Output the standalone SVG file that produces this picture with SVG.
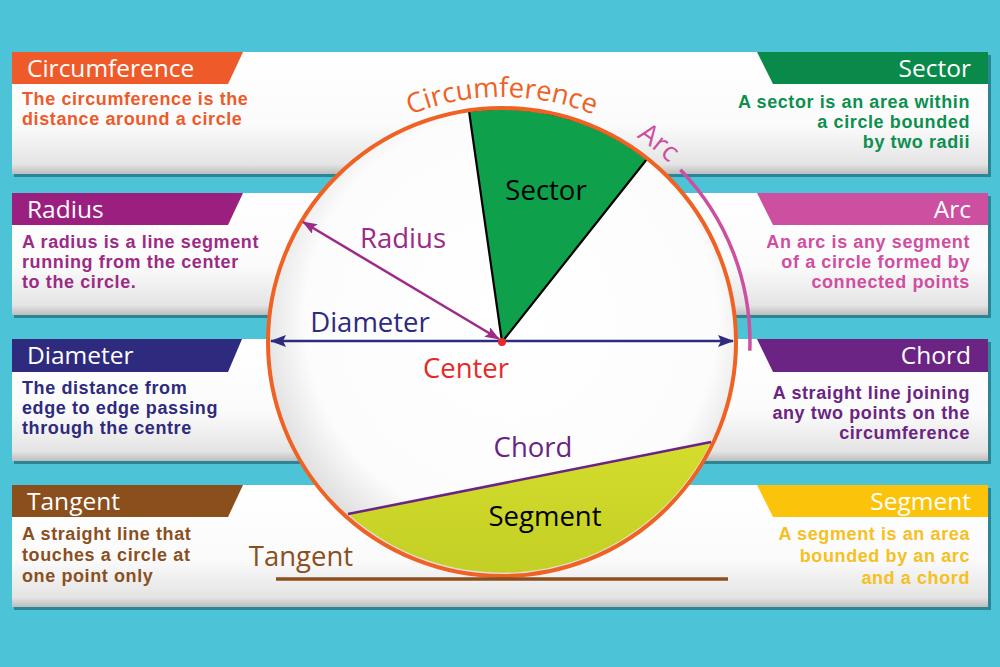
<svg xmlns="http://www.w3.org/2000/svg" width="1000" height="667" viewBox="0 0 1000 667">
<defs>
<linearGradient id="band" x1="0" y1="0" x2="0" y2="1">
<stop offset="0" stop-color="#ffffff"/>
<stop offset="0.6" stop-color="#fbfbfb"/>
<stop offset="0.92" stop-color="#e4e4e4"/>
<stop offset="1" stop-color="#bdbdbd"/>
</linearGradient>
<radialGradient id="disc" cx="0.52" cy="0.45" r="0.55">
<stop offset="0" stop-color="#ffffff"/>
<stop offset="0.8" stop-color="#fcfcfc"/>
<stop offset="1" stop-color="#dedede"/>
</radialGradient>
<linearGradient id="segfill" x1="0" y1="0" x2="0" y2="1">
<stop offset="0" stop-color="#d4dd2c"/>
<stop offset="1" stop-color="#c3cf25"/>
</linearGradient>
<marker id="ahNavy" viewBox="0 0 16 12" refX="15" refY="6" markerWidth="16" markerHeight="12" markerUnits="userSpaceOnUse" orient="auto-start-reverse">
<path d="M0,0 L16,6 L0,12 L3,6 z" fill="#2e2a7e"/>
</marker>
<marker id="ahRad" viewBox="0 0 16 12" refX="15" refY="6" markerWidth="15" markerHeight="11" markerUnits="userSpaceOnUse" orient="auto-start-reverse">
<path d="M0,0 L16,6 L0,12 L3,6 z" fill="#9b2a88"/>
</marker>
<path id="topArc" d="M257,342 A245,245 0 0 1 747,342"/>
</defs>
<style>
.hdr{font-family:"Open Sans","Liberation Sans",sans-serif;font-size:24.5px;fill:#ffffff}
.body{font-family:"Liberation Sans","Arial",sans-serif;font-size:18px;font-weight:700;letter-spacing:0.6px}
.lbl{font-family:"Open Sans","Liberation Sans",sans-serif;font-size:27.5px}
.r{text-anchor:end}
.shadow{fill:#2a8694}
.bandrect{fill:url(#band)}
</style>
<rect width="1000" height="667" fill="#4cc3d6"/>

<g id="bands">
<rect class="shadow" x="14" y="55" width="977" height="122"/>
<rect class="bandrect" x="12" y="52" width="976" height="122"/>
<rect class="shadow" x="14" y="196" width="977" height="122"/>
<rect class="bandrect" x="12" y="193" width="976" height="122"/>
<rect class="shadow" x="14" y="342" width="977" height="122"/>
<rect class="bandrect" x="12" y="339" width="976" height="122"/>
<rect class="shadow" x="14" y="488" width="977" height="122"/>
<rect class="bandrect" x="12" y="485" width="976" height="122"/>
</g>

<g id="panel-circumference">
<polygon points="12,52 243,52 228,84 12,84" fill="#ef5a2a"/>
<text class="hdr" x="27" y="77">Circumference</text>
<text class="body" fill="#ef5a2a" x="22" y="105">The circumference is the</text>
<text class="body" fill="#ef5a2a" x="22" y="125">distance around a circle</text>
</g>

<g id="panel-sector">
<polygon points="757,52 988,52 988,84 773,84" fill="#0a8a4a"/>
<text class="hdr r" x="971" y="77">Sector</text>
<text class="body r" fill="#0d8f4f" x="970" y="108">A sector is an area within</text>
<text class="body r" fill="#0d8f4f" x="970" y="128">a circle bounded</text>
<text class="body r" fill="#0d8f4f" x="970" y="148">by two radii</text>
</g>

<g id="panel-radius">
<polygon points="12,193 243,193 228,225 12,225" fill="#9b1f7e"/>
<text class="hdr" x="27" y="218">Radius</text>
<text class="body" fill="#9c2a86" x="22" y="248">A radius is a line segment</text>
<text class="body" fill="#9c2a86" x="22" y="268">running from the center</text>
<text class="body" fill="#9c2a86" x="22" y="288">to the circle.</text>
</g>

<g id="panel-arc">
<polygon points="757,193 988,193 988,225 773,225" fill="#cc4fa0"/>
<text class="hdr r" x="971" y="218">Arc</text>
<text class="body r" fill="#d04ea2" x="970" y="248">An arc is any segment</text>
<text class="body r" fill="#d04ea2" x="970" y="268">of a circle formed by</text>
<text class="body r" fill="#d04ea2" x="970" y="288">connected points</text>
</g>

<g id="panel-diameter">
<polygon points="12,339 242,339 228,372 12,372" fill="#2e2a7e"/>
<text class="hdr" x="27" y="364">Diameter</text>
<text class="body" fill="#2e2a7e" x="22" y="394">The distance from</text>
<text class="body" fill="#2e2a7e" x="22" y="414">edge to edge passing</text>
<text class="body" fill="#2e2a7e" x="22" y="434">through the centre</text>
</g>

<g id="panel-chord">
<polygon points="757,339 988,339 988,372 773,372" fill="#6b2483"/>
<text class="hdr r" x="971" y="364">Chord</text>
<text class="body r" fill="#6b2483" x="970" y="399">A straight line joining</text>
<text class="body r" fill="#6b2483" x="970" y="419">any two points on the</text>
<text class="body r" fill="#6b2483" x="970" y="439">circumference</text>
</g>

<g id="panel-tangent">
<polygon points="12,485 243,485 228,517 12,517" fill="#8b4f1e"/>
<text class="hdr" x="27" y="510">Tangent</text>
<text class="body" fill="#8b4f1e" x="22" y="540">A straight line that</text>
<text class="body" fill="#8b4f1e" x="22" y="561">touches a circle at</text>
<text class="body" fill="#8b4f1e" x="22" y="582">one point only</text>
</g>

<g id="panel-segment">
<polygon points="757,485 988,485 988,517 773,517" fill="#fcc30b"/>
<text class="hdr r" x="971" y="510">Segment</text>
<text class="body r" fill="#f6c023" x="970" y="540">A segment is an area</text>
<text class="body r" fill="#f6c023" x="970" y="562">bounded by an arc</text>
<text class="body r" fill="#f6c023" x="970" y="584">and a chord</text>
</g>

<g id="circle">
<circle cx="502" cy="342" r="234" fill="url(#disc)"/>
<path id="sector" d="M502,342 L469,111 A233,233 0 0 1 647,159 Z" fill="#0ea04b" stroke="#000" stroke-width="2.2" stroke-linejoin="round"/>
<path id="segment" d="M711,442 A232,232 0 0 1 348,514 Z" fill="url(#segfill)"/>
<circle cx="502" cy="342" r="234" fill="none" stroke="#ef6223" stroke-width="4"/>
<path d="M680.4,169.7 A248,248 0 0 1 749.8,350.7" fill="none" stroke="#cc4fa0" stroke-width="3.5"/>
<text class="lbl" fill="#ef6223"><textPath href="#topArc" startOffset="50%" text-anchor="middle">Circumference</textPath></text>
<text class="lbl" fill="#cc4fa0"><textPath href="#topArc" startOffset="527">Arc</textPath></text>
<text class="lbl" fill="#000" x="546" y="200" text-anchor="middle">Sector</text>
<text class="lbl" fill="#9b2a88" x="403" y="248" text-anchor="middle">Radius</text>
<text class="lbl" fill="#2e2a7e" x="370" y="332" text-anchor="middle">Diameter</text>
<text class="lbl" fill="#e52a2a" x="466" y="378" text-anchor="middle">Center</text>
<text class="lbl" fill="#6b2483" x="533" y="457" text-anchor="middle">Chord</text>
<text class="lbl" fill="#000" x="545" y="526" text-anchor="middle">Segment</text>
<text class="lbl" fill="#8b4f1e" x="301" y="566" text-anchor="middle">Tangent</text>
</g>

<g id="connectors">
<line x1="271" y1="341" x2="733" y2="341" stroke="#2e2a7e" stroke-width="2.5" marker-start="url(#ahNavy)" marker-end="url(#ahNavy)"/>
<line x1="303" y1="222" x2="499" y2="339" stroke="#9b2a88" stroke-width="2.5" marker-start="url(#ahRad)" marker-end="url(#ahRad)"/>
<line x1="348" y1="514" x2="711" y2="442" stroke="#6b2483" stroke-width="2.5"/>
<line x1="276" y1="579" x2="728" y2="579" stroke="#8b4f1e" stroke-width="3.5"/>
<circle cx="502" cy="342" r="4" fill="#e52a2a"/>
</g>
</svg>
